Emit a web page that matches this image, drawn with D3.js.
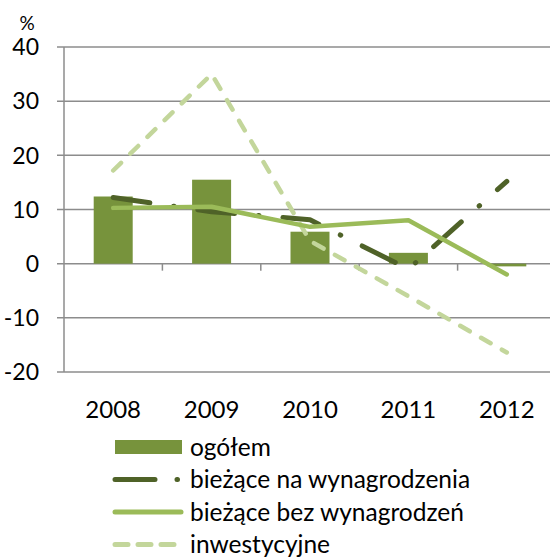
<!DOCTYPE html>
<html>
<head>
<meta charset="utf-8">
<script src="https://cdn.jsdelivr.net/npm/d3@7"></script>
<style>
  body { margin: 0; background: #fff; }
  text { font-family: Lato, "Open Sans", sans-serif; fill: #000; }
</style>
</head>
<body>
<div id="vizHolder"></div>
<script>
// data
var years = ['2008', '2009', '2010', '2011', '2012'];
var ogolem = [12.4, 15.5, 5.9, 2.0, -0.5];
var naWynagrodzenia = [12.2, 9.6, 8.1, -1.0, 15.2];
var bezWynagrodzen = [10.3, 10.5, 6.8, 8.0, -2.0];
var inwestycyjne = [17.2, 35.0, 4.2, -6.0, -16.4];
var yTicks = [-20, -10, 0, 10, 20, 30, 40];

var width = 550, height = 558,
    plotLeft = 64, plotRight = 556, plotTop = 47, plotBottom = 372;

var svg = d3.select('#vizHolder').append('svg')
    .attr('width', width)
    .attr('height', height);

var x = d3.scaleBand().domain(years).range([plotLeft, plotRight]);
var y = d3.scaleLinear().domain([-20, 40]).range([plotBottom, plotTop]);

// gridlines
svg.append('g').selectAll('line').data(yTicks).enter()
    .append('line')
    .attr('x1', plotLeft - 7).attr('x2', plotRight)
    .attr('y1', function(d){ return y(d); })
    .attr('y2', function(d){ return y(d); })
    .attr('stroke', '#8c8c8c').attr('stroke-width', 1.5);

// y axis line
svg.append('line')
    .attr('x1', plotLeft).attr('x2', plotLeft)
    .attr('y1', plotTop).attr('y2', plotBottom)
    .attr('stroke', '#8c8c8c').attr('stroke-width', 1.5);

// x tick marks on zero line
svg.append('g').selectAll('line').data(years.slice(1)).enter()
    .append('line')
    .attr('x1', function(d){ return x(d); })
    .attr('x2', function(d){ return x(d); })
    .attr('y1', y(0)).attr('y2', y(0) + 7)
    .attr('stroke', '#8c8c8c').attr('stroke-width', 1.5);

// y labels
svg.append('g').selectAll('text').data(yTicks).enter()
    .append('text')
    .attr('x', 39)
    .attr('y', function(d){ return y(d); })
    .attr('dy', '0.36em')
    .attr('text-anchor', 'end')
    .style('font-size', '23px')
    .text(function(d){ return d; });

svg.append('text')
    .attr('x', 27).attr('y', 30)
    .attr('text-anchor', 'middle')
    .style('font-size', '19px')
    .text('%');

// x labels
svg.append('g').selectAll('text').data(years).enter()
    .append('text')
    .attr('x', function(d){ return x(d) + x.bandwidth() / 2; })
    .attr('y', 418)
    .attr('text-anchor', 'middle')
    .style('font-size', '24px')
    .text(function(d){ return d; });

// bars
var barW = 39;
svg.append('g').selectAll('rect').data(ogolem).enter()
    .append('rect')
    .attr('x', function(d, i){ return x(years[i]) + x.bandwidth() / 2 - barW / 2; })
    .attr('y', function(d){ return y(Math.max(0, d)); })
    .attr('width', barW)
    .attr('height', function(d){ return Math.abs(y(d) - y(0)); })
    .attr('fill', '#77933c');

var line = d3.line()
    .x(function(d, i){ return x(years[i]) + x.bandwidth() / 2; })
    .y(function(d){ return y(d); });

var series = [
    {name: 'inwestycyjne', values: inwestycyjne, color: '#c3d69b', dash: '11,13', w: 4.5},
    {name: 'bieżące na wynagrodzenia', values: naWynagrodzenia, color: '#4f6228', dash: '37,24,0.5,24', w: 5},
    {name: 'bieżące bez wynagrodzeń', values: bezWynagrodzen, color: '#9bbb59', dash: null, w: 4.5}
];

svg.append('g').selectAll('path').data(series).enter()
    .append('path')
    .attr('d', function(d){ return line(d.values); })
    .attr('fill', 'none')
    .attr('stroke', function(d){ return d.color; })
    .attr('stroke-width', function(d){ return d.w; })
    .attr('stroke-linecap', 'round')
    .attr('stroke-linejoin', 'round')
    .attr('stroke-dasharray', function(d){ return d.dash; });

// legend
var legend = [
    {name: 'ogółem', color: '#77933c', type: 'bar', dash: null},
    {name: 'bieżące na wynagrodzenia', color: '#4f6228', type: 'line', dash: '40,22,0.5,30'},
    {name: 'bieżące bez wynagrodzeń', color: '#9bbb59', type: 'line', dash: null},
    {name: 'inwestycyjne', color: '#c3d69b', type: 'line', dash: '13,10'}
];
var lg = svg.append('g').selectAll('g').data(legend).enter()
    .append('g')
    .attr('transform', function(d, i){ return 'translate(115,' + (447 + i * 32.5) + ')'; });

lg.filter(function(d){ return d.type === 'bar'; })
    .append('rect')
    .attr('x', 0).attr('y', -7)
    .attr('width', 67).attr('height', 14)
    .attr('fill', function(d){ return d.color; });

lg.filter(function(d){ return d.type === 'line'; })
    .append('line')
    .attr('x1', 0).attr('x2', 66)
    .attr('y1', 0).attr('y2', 0)
    .attr('stroke', function(d){ return d.color; })
    .attr('stroke-width', 5)
    .attr('stroke-linecap', 'round')
    .attr('stroke-dasharray', function(d){ return d.dash; });

lg.append('text')
    .attr('x', 75).attr('y', 0)
    .attr('dy', '0.35em')
    .style('font-size', '24.5px')
    .text(function(d){ return d.name; });
</script>
</body>
</html>
